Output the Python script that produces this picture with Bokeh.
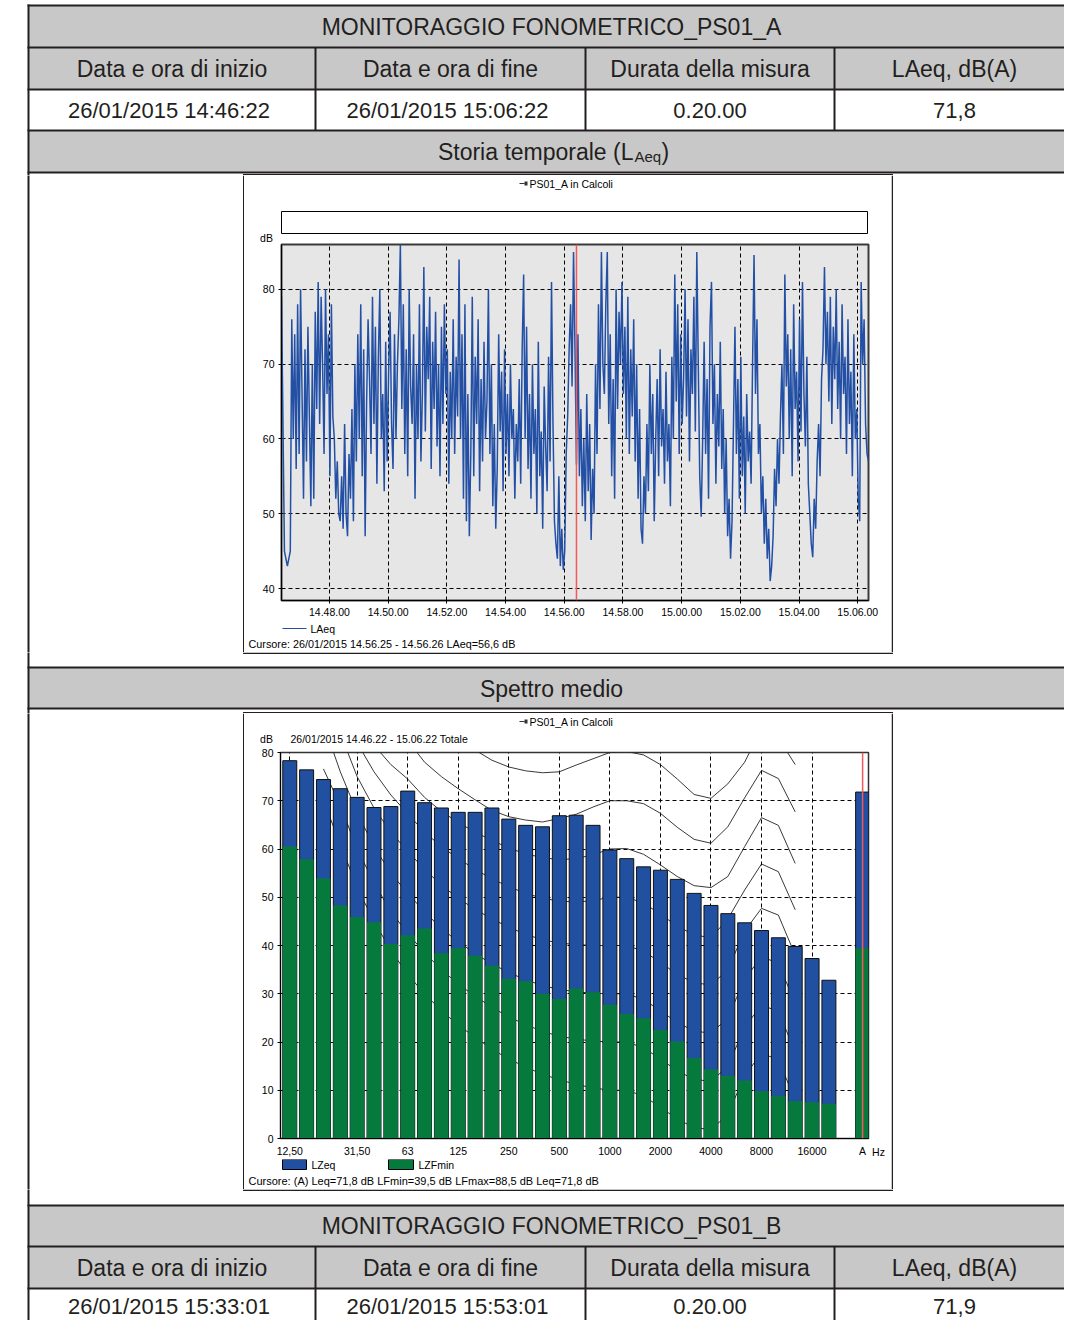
import pandas as pd
from bokeh.plotting import figure
from bokeh.layouts import column, row
from bokeh.models import Range1d, FixedTicker, DatetimeTickFormatter, Span
from bokeh.core.properties import value
from bokeh.embed import file_html
from bokeh.resources import INLINE

# ------------------------------------------------------------------ data
TITLE_A = "MONITORAGGIO FONOMETRICO_PS01_A"
TITLE_B = "MONITORAGGIO FONOMETRICO_PS01_B"
HEADERS = ["Data e ora di inizio", "Data e ora di fine", "Durata della misura", "LAeq, dB(A)"]
ROW_A = ["26/01/2015  14:46:22", "26/01/2015  15:06:22", "0.20.00", "71,8"]
ROW_B = ["26/01/2015  15:33:01", "26/01/2015  15:53:01", "0.20.00", "71,9"]
SECTION_TIME = "Storia temporale (L"
SECTION_TIME_SUB = "Aeq"
SECTION_SPEC = "Spettro medio"

CHART_TITLE = "PS01_A in Calcoli"
START = "2015-01-26 14:46:22"
END = "2015-01-26 15:06:22"
STEP = "3s"
CURSOR = "2015-01-26 14:56:25"
TIME_TICKS = ["14:48", "14:50", "14:52", "14:54", "14:56", "14:58", "15:00", "15:02", "15:04", "15:06"]
DB_TICKS_1 = [40, 50, 60, 70, 80]
LAEQ = [
    79, 62, 45, 44, 43, 44, 45, 76, 60, 74, 56, 78, 58, 80, 66, 52, 72, 57, 75, 63,
    51, 70, 52, 77, 64, 81, 62, 79, 70, 58, 80, 66, 74, 55, 78, 63, 60, 52, 57, 50,
    49, 55, 48, 62, 50, 47, 58, 52, 64, 49, 70, 57, 74, 60, 78, 55, 72, 47, 65, 76,
    68, 58, 79, 62, 75, 54, 71, 80, 60, 66, 53, 73, 57, 69, 77, 62, 56, 74, 60, 70,
    76, 86, 64, 78, 58, 72, 55, 80, 67, 62, 74, 52, 70, 60, 78, 57, 66, 83, 61, 75,
    68, 79, 56, 73, 64, 77, 59, 70, 55, 75, 62, 78, 66, 72, 54, 69, 60, 76, 58, 71,
    63, 84, 60, 74, 52, 78, 49, 66, 47, 58, 79, 55, 71, 62, 76, 53, 68, 57, 73, 60,
    65, 80, 58, 70, 51, 62, 48, 56, 74, 61, 69, 53, 72, 58, 66, 55, 70, 60, 64, 52,
    62, 57, 68, 54, 72, 82, 60, 75, 56, 66, 52, 70, 58, 64, 50, 73, 55, 61, 48, 67,
    59, 53, 71, 57, 81, 62, 49, 46, 44, 55, 43, 48, 42.5, 45, 58, 63, 72, 78, 67, 85,
    72, 56.6, 74, 55, 64, 51, 60, 49, 66, 53, 62, 46.5, 56, 50, 70, 58, 78, 64, 85, 70,
    66, 78, 85, 62, 74, 55, 68, 52, 80, 64, 77, 70, 81, 66, 75, 60, 79, 58, 72, 63,
    76, 57, 70, 52, 64, 48, 46, 55, 50, 62, 53, 70, 58, 66, 49, 60, 68, 55, 72, 59,
    64, 54, 69, 57, 62, 51, 71, 60, 82, 65, 78, 58, 74, 62, 68, 80, 63, 76, 57, 72,
    66, 79, 61, 85, 70, 55, 49.6, 60, 73, 58, 68, 52, 75, 81, 62, 70, 54, 66, 59, 73,
    56, 64, 50, 60, 47, 52, 44, 49, 62, 75, 58, 68, 52, 71, 55, 63, 50, 66, 57, 61,
    54, 70, 84.6, 66, 76, 58, 62, 50, 55, 46, 52, 44, 48, 41, 43, 47, 56, 51, 60, 54,
    63, 70, 58, 82, 67, 74, 60, 72, 55, 78, 64, 69, 57, 76, 61, 81, 66, 59, 71, 54,
    50, 46, 44.2, 52, 48, 57, 62, 55, 68, 72, 83, 70, 77, 65, 79, 62, 75, 68, 80, 64,
    73, 60, 78, 66, 71, 58, 76, 62, 69, 55, 74, 60, 64, 52, 49, 81, 70, 76, 62, 58,
    57,
]
CURSOR_TEXT_1 = "Cursore: 26/01/2015 14.56.25 - 14.56.26  LAeq=56,6 dB"
LEGEND_1 = "LAeq"

SPEC_PERIOD = "26/01/2015 14.46.22 - 15.06.22  Totale"
BANDS = ["12,5", "16", "20", "25", "31,5", "40", "50", "63", "80", "100", "125", "160",
         "200", "250", "315", "400", "500", "630", "800", "1000", "1250", "1600", "2000",
         "2500", "3150", "4000", "5000", "6300", "8000", "10000", "12500", "16000", "20000"]
LZEQ = [78.3, 76.4, 74.4, 72.5, 70.7, 68.6, 68.8, 72.0, 69.6, 68.5, 67.6, 67.6, 68.5,
        66.2, 64.9, 64.6, 66.9, 67.0, 64.9, 59.8, 58.0, 56.3, 55.6, 53.7, 50.8, 48.3,
        46.6, 44.7, 43.1, 41.6, 39.8, 37.3, 32.8]
LZFMIN = [60.5, 57.9, 53.9, 48.3, 45.9, 44.8, 40.3, 42.1, 43.5, 38.4, 39.5, 37.9, 35.8,
          33.1, 32.6, 30.0, 28.9, 31.1, 30.3, 27.7, 25.8, 24.9, 22.5, 20.1, 16.7, 14.3,
          13.0, 12.0, 9.8, 8.8, 7.7, 7.5, 7.2]
TOTAL_LZEQ = 71.8
TOTAL_LZFMIN = 39.5
BAND_TICKS = {0: "12,50", 4: "31,50", 7: "63", 10: "125", 13: "250", 16: "500", 19: "1000",
              22: "2000", 25: "4000", 28: "8000", 31: "16000", 34: "A"}
DB_TICKS_2 = [0, 10, 20, 30, 40, 50, 60, 70, 80]
# equal-loudness style contours: first band index, then one level per band
CONTOUR_80 = (8, [92, 88, 84, 80.5, 78.4, 77.0, 76.2, 75.8, 76.0, 77.4, 78.7, 80.0, 80.2, 79.5,
                  77.5, 74.5, 71.3, 70.5, 73.5, 78.0, 85.0, 83.0, 77.5])
CONTOUR_70 = (5, [90, 86.5, 82.5, 78, 75, 72.5, 70.2, 68, 66.7, 66.0, 65.6, 66.3, 67.2, 68.7,
                  70, 70, 69.4, 67.4, 64.5, 62, 61.2, 64.6, 70.6, 76.3, 74.6, 67.7])
CONTOUR_60 = (3, [90, 85.5, 81.5, 77.5, 74.5, 70.7, 67.8, 65.5, 63.5, 61.8, 60.2, 59.0, 58.2,
                  57.8, 58.0, 58.8, 60.0, 60.1, 58.9, 56.7, 54.3, 52.4, 52.0, 54.3, 60.5,
                  66.5, 64.9, 57.0])
CONTOUR_50 = (2, [95, 88, 82, 76, 71.2, 67.3, 63.5, 60.5, 58, 55.8, 53.8, 52.2, 50.8, 49.8,
                  49.2, 49.0, 49.3, 50, 50, 48.8, 46.5, 44, 42.2, 41.6, 45.5, 51.5, 56.9,
                  55.3, 47.4])
CONTOUR_40 = (2, [92, 84, 75, 68.5, 63.5, 59.5, 55.8, 52.5, 49.8, 47.5, 45.5, 43.8, 42.3,
                  41.2, 40.5, 40.2, 40.0, 40.0, 40, 38.8, 36.5, 34, 32.3, 31.8, 35.0, 43,
                  47.7, 46.3, 38])
CONTOUR_30 = (2, [86, 76, 67.5, 60.5, 55, 50.8, 47, 43.5, 40.8, 38.3, 36.2, 34.4, 32.9, 31.7,
                  30.9, 30.4, 30.1, 30, 30, 28.8, 26.5, 24, 22.3, 21.8, 25.0, 33, 37.7,
                  36.3, 28])
CONTOUR_20 = (2, [76.6, 69, 60, 53, 47, 42.5, 38.5, 35, 32, 29.5, 27.2, 25.2, 23.6, 22.2,
                  21.2, 20.6, 20.2, 20, 20, 18.8, 16.5, 14, 12.3, 11.8, 15.0, 23, 27.7,
                  26.3, 18])
CONTOUR_10 = (2, [70, 61, 52, 45, 39, 34, 30, 26.5, 23.5, 21, 18.5, 16.5, 14.8, 13.3, 12.2,
                  11.2, 10.5, 10, 10, 8.8, 6.5, 4, 2.3, 1.8, 5.0, 13, 17.7, 16.3, 8])
CONTOURS = [CONTOUR_80, CONTOUR_70, CONTOUR_60, CONTOUR_50, CONTOUR_40, CONTOUR_30,
            CONTOUR_20, CONTOUR_10]
LEGEND_2 = ["LZeq", "LZFmin"]
CURSOR_TEXT_2 = "Cursore: (A) Leq=71,8 dB  LFmin=39,5 dB  LFmax=88,5 dB  Leq=71,8 dB"

# ------------------------------------------------------------------ style
FONT_T = "Liberation Sans"
FONT_C = "Liberation Sans"
INK = "#231f20"
GRAY = "#c8c8c8"
BLUE = "#2150a0"
GREEN = "#067a3d"
LINE_BLUE = "#2350a5"
RED = "#f05a5a"
PAGE_W, PAGE_H = 1064, 1320

# ------------------------------------------------------------------ page elements (page px)
TX0, TX1 = 28, 1074
COLS = [28, 315, 585, 834, 1074]
CC = [(a + b) / 2 for a, b in zip(COLS[:-1], COLS[1:])]
ROWS = [(5, 47, GRAY), (47, 89, GRAY), (89, 130, "white"), (130, 172, GRAY),
        (172, 667, "white"), (667, 708, GRAY), (708, 1205, "white"), (1205, 1246, GRAY),
        (1246, 1288, GRAY), (1288, 1340, "white")]
HL = [5, 47, 89, 130, 172, 667, 708, 1205, 1246, 1288]
BOX1 = (244, 175, 891, 652)
BOX2 = (244, 713, 891, 1189)

# (x0, x1, y0, y1, fill, line)
QUADS = [(TX0, TX1, y0, y1, c, None) for (y0, y1, c) in ROWS]
QUADS += [(TX0 - 1, TX1, y - 1, y + 1, INK, None) for y in HL]
QUADS.append((27, 29, 4, 1340, INK, None))
for xc in COLS[1:4]:
    QUADS.append((xc - 1, xc + 1, 47, 130, INK, None))
    QUADS.append((xc - 1, xc + 1, 1246, 1340, INK, None))
for (x0, y0, x1, y1) in (BOX1, BOX2):
    QUADS += [(x0 - 1.5, x1 + 1.5, y0 - 1.5, y0, INK, None), (x0 - 1.5, x1 + 1.5, y1, y1 + 1.5, INK, None),
              (x0 - 1.5, x0, y0, y1, INK, None), (x1, x1 + 1.5, y0, y1, INK, None)]
# chart decorations: title icons, empty strip box, legend keys
for yc in (183, 721):
    QUADS += [(519, 524, yc - 0.6, yc + 0.6, "#333333", None),
              (524, 527, yc - 2, yc + 2, "#333333", None)]
QUADS += [(281, 867, 211, 233, "white", "black"),
          (282, 306, 627.4, 628.6, LINE_BLUE, None),
          (282, 306, 1159, 1169, BLUE, "black"),
          (388, 413, 1159, 1169, GREEN, "black")]

# (x, y, text, size, align, font)
TEXTS = [(551, 26, TITLE_A, 23, "center", FONT_T), (551, 1225, TITLE_B, 23, "center", FONT_T)]
for i in range(4):
    TEXTS.append((CC[i], 68, HEADERS[i], 23, "center", FONT_T))
    TEXTS.append((CC[i], 110, ROW_A[i], 22, "center", FONT_T))
    TEXTS.append((CC[i], 1267, HEADERS[i], 23, "center", FONT_T))
    TEXTS.append((CC[i], 1306, ROW_B[i], 22, "center", FONT_T))
TEXTS += [(633, 151, SECTION_TIME, 23, "right", FONT_T),
          (634, 156, SECTION_TIME_SUB, 15, "left", FONT_T),
          (661, 151, ")", 23, "left", FONT_T),
          (551, 688, SECTION_SPEC, 23, "center", FONT_T)]
TEXTS += [(571, 183, CHART_TITLE, 10.5, "center", FONT_C),
          (266, 237, "dB", 10.5, "center", FONT_C),
          (310, 628, LEGEND_1, 10.5, "left", FONT_C),
          (248, 643, CURSOR_TEXT_1, 10.8, "left", FONT_C),
          (571, 721, CHART_TITLE, 10.5, "center", FONT_C),
          (266, 738.5, "dB", 10.5, "center", FONT_C),
          (290, 738.5, SPEC_PERIOD, 10.5, "left", FONT_C),
          (878, 1151, "Hz", 10.5, "center", FONT_C),
          (311, 1164, LEGEND_2[0], 10.5, "left", FONT_C),
          (418, 1164, LEGEND_2[1], 10.5, "left", FONT_C),
          (248, 1180, CURSOR_TEXT_2, 11, "left", FONT_C)]


def piece(ox, oy, w, h):
    p = figure(width=w, height=h, x_range=Range1d(0, w), y_range=Range1d(h, 0),
               x_axis_location=None, y_axis_location=None, toolbar_location=None,
               output_backend="svg", min_border=0, outline_line_color=None,
               background_fill_color="white", border_fill_color="white")
    p.xgrid.visible = False
    p.ygrid.visible = False
    for (x0, x1, y0, y1, fc, lc) in QUADS:
        if x1 > ox and x0 < ox + w and y1 > oy and y0 < oy + h:
            p.quad(left=[x0 - ox], right=[x1 - ox], top=[y0 - oy], bottom=[y1 - oy],
                   fill_color=fc, line_color=lc, line_width=1)
    for (x, y, t, s, a, f) in TEXTS:
        if ox <= x < ox + w and oy <= y < oy + h:
            p.text(x=[x - ox], y=[y - oy], text=[t], text_align=a, text_baseline="middle",
                   text_font=value(f), text_font_size=value(f"{s}px"),
                   text_color=INK if s > 12 else "black")
    return p


def style_axes(p):
    for ax in p.axis:
        ax.major_label_text_font = FONT_C
        ax.major_label_text_font_size = "10.5px"
        ax.major_label_text_color = "black"
        ax.axis_line_color = "black"
        ax.major_tick_line_color = "black"
        ax.minor_tick_line_color = None
        ax.major_tick_in = 0


def dashed_grid(p):
    for g in (p.xgrid, p.ygrid):
        g.grid_line_color = "black"
        g.grid_line_dash = "4 3"
        g.grid_line_width = 1
        g.grid_line_alpha = 1


# ------------------------------------------------------------------ chart 1: time history
times = pd.date_range(START, periods=len(LAEQ), freq=STEP)
c1 = figure(width=647, height=380, x_axis_type="datetime",
            x_range=Range1d(pd.Timestamp(START).to_pydatetime(), pd.Timestamp(END).to_pydatetime()),
            y_range=Range1d(38.4, 86.0), toolbar_location=None, output_backend="svg",
            min_border_left=37, min_border_right=23, min_border_top=2, min_border_bottom=22,
            background_fill_color="#e6e6e6", border_fill_color="white",
            outline_line_color="#3a3a3a", outline_line_width=2)
tick_ms = [pd.Timestamp(f"2015-01-26 {hm}:00").value / 1e6 for hm in TIME_TICKS]
c1.xaxis.ticker = FixedTicker(ticks=tick_ms)
fmt = "%H.%M.%S"
c1.xaxis.formatter = DatetimeTickFormatter(seconds=fmt, minsec=fmt, minutes=fmt, hourmin=fmt,
                                           hours=fmt, days=fmt)
c1.yaxis.ticker = FixedTicker(ticks=DB_TICKS_1)
style_axes(c1)
c1.xaxis.major_tick_out = 3
c1.xaxis.major_label_standoff = 4
c1.yaxis.major_tick_out = 3
c1.yaxis.major_label_standoff = 4
dashed_grid(c1)
c1.line(x=times, y=LAEQ, line_color=LINE_BLUE, line_width=1.5)
c1.add_layout(Span(location=pd.Timestamp(CURSOR).value / 1e6, dimension="height",
                   line_color=RED, line_width=1.5))

# ------------------------------------------------------------------ chart 2: spectrum
c2 = figure(width=626, height=414, x_range=Range1d(-0.55, 34.35), y_range=Range1d(0, 80),
            toolbar_location=None, output_backend="svg",
            min_border_left=36, min_border_right=2, min_border_top=7, min_border_bottom=20,
            background_fill_color="white", border_fill_color="white",
            outline_line_color="#333333", outline_line_width=1.5)
c2.xaxis.ticker = FixedTicker(ticks=list(BAND_TICKS.keys()))
c2.xaxis.major_label_overrides = {k: v for k, v in BAND_TICKS.items()}
c2.yaxis.ticker = FixedTicker(ticks=DB_TICKS_2)
style_axes(c2)
c2.xaxis.major_tick_out = 0
c2.xaxis.major_label_standoff = 6
c2.yaxis.major_tick_out = 3
c2.yaxis.major_label_standoff = 4
c2.xgrid.ticker = FixedTicker(ticks=[k for k in BAND_TICKS.keys() if k < 33])
c2.ygrid.ticker = FixedTicker(ticks=DB_TICKS_2[1:-1])
dashed_grid(c2)
xs = [list(range(s, s + len(v))) for s, v in CONTOURS]
ys = [v for s, v in CONTOURS]
c2.multi_line(xs=xs, ys=ys, line_color="#222222", line_width=0.9)
bx = list(range(len(BANDS))) + [34]
c2.vbar(x=bx, top=LZEQ + [TOTAL_LZEQ], bottom=0, width=0.83, fill_color=BLUE,
        line_color="#111111", line_width=1)
c2.vbar(x=bx, top=LZFMIN + [TOTAL_LZFMIN], bottom=0, width=0.83, fill_color=GREEN,
        line_color=None)
c2.add_layout(Span(location=34, dimension="height", line_color=RED, line_width=1.5))

# ------------------------------------------------------------------ layout
# plots are wrapped in their own row/column so that Bokeh does not align frames
top = piece(0, 0, PAGE_W, 175)
chart1 = column(piece(244, 175, 647, 67), row(c1), piece(244, 622, 647, 30))
row1 = row(piece(0, 175, 244, 477), chart1, piece(891, 175, PAGE_W - 891, 477))
mid = piece(0, 652, PAGE_W, 61)
chart2 = column(piece(244, 713, 647, 32),
                row(column(c2), column(piece(870, 745, 21, 414))),
                piece(244, 1159, 647, 30))
row2 = row(piece(0, 713, 244, 476), chart2, piece(891, 713, PAGE_W - 891, 476))
bot = piece(0, 1189, PAGE_W, PAGE_H - 1189)

page = column(top, row1, mid, row2, bot)
open("out.html", "w").write(file_html(page, INLINE))
